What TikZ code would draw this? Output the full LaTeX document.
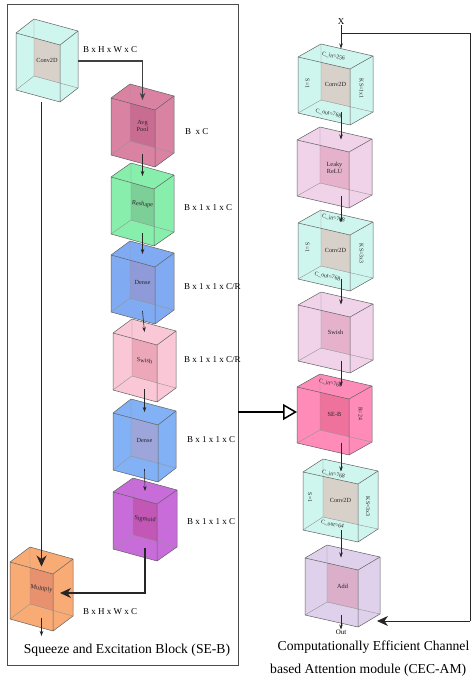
\documentclass[tikz,border=0pt]{standalone}
\usepackage{fontspec}
\setmainfont{Liberation Serif}
\usetikzlibrary{arrows.meta}

% face colours of the see-through blocks (body / overlapping inner panel)
\definecolor{cyanB}{HTML}{CFF6EE}\definecolor{cyanP}{HTML}{D7D1CA}
\definecolor{poolB}{HTML}{DA82A2}\definecolor{poolP}{HTML}{C96C92}
\definecolor{greenB}{HTML}{88EEAC}\definecolor{greenP}{HTML}{7DCF98}
\definecolor{blueB}{HTML}{80ABF2}\definecolor{blueP}{HTML}{8E9BD8}
\definecolor{blue2B}{HTML}{82B1F5}\definecolor{blue2P}{HTML}{9DA6DB}
\definecolor{rosyB}{HTML}{F9C7D5}\definecolor{rosyP}{HTML}{ECA8B8}
\definecolor{violetB}{HTML}{C76CD9}\definecolor{violetP}{HTML}{C257B5}
\definecolor{orangeB}{HTML}{F8AB74}\definecolor{orangeP}{HTML}{E8916E}
\definecolor{mauveB}{HTML}{F0D2E9}\definecolor{mauveP}{HTML}{E6B2CB}
\definecolor{hotB}{HTML}{FF8BB9}\definecolor{hotP}{HTML}{EE729C}
\definecolor{lilacB}{HTML}{DFD1EB}\definecolor{lilacP}{HTML}{DBAEC9}

\tikzset{
  edge/.style={draw=black!62, line width=0.5bp, line join=round},
  hiddenedge/.style={draw=black!42, line width=0.4bp},
  lbl/.style={font=\fontsize{6.3}{7}\selectfont, text=black!85, inner sep=0, align=center},
  tinylbl/.style={font=\fontsize{5.8}{6.5}\selectfont, text=black!85, inner sep=0},
  dimlbl/.style={font=\fontsize{9}{10}\selectfont, inner sep=0, anchor=west},
  caption/.style={font=\fontsize{13.7}{23}\selectfont, align=center, inner sep=0},
  flow/.style={draw=black!85, line width=0.6bp, -{Stealth[length=5bp,width=3.5bp]}},
  mainflow/.style={draw=black!75, line width=1.1bp, -{Stealth[length=7bp,width=5.5bp]}},
  heavyflow/.style={draw=black!85, line width=1.1bp, -{Stealth[length=11bp,width=10bp]}},
  hollowflow/.style={draw=black, line width=1.5bp, -{Triangle[open,length=14bp,width=16bp,line width=1.5bp]}},
  frameline/.style={draw=black!70, line width=0.8bp},
}

% \cuboid{name}{x}{y}{w}{h}{dx}{dy}{body}{panel}
% (x,y): front top-left corner, w,h: front face, (dx,dy): depth offset
\newcommand\cuboid[9]{%
  \pgfmathsetmacro\cbx{#2}\pgfmathsetmacro\cby{#3}%
  \pgfmathsetmacro\cbw{#4}\pgfmathsetmacro\cbh{#5}%
  \pgfmathsetmacro\cbdx{#6}\pgfmathsetmacro\cbdy{#7}%
  \coordinate (#1-A)  at ({\cbx},{\cby});
  \coordinate (#1-B)  at ({\cbx+\cbw},{\cby+12});
  \coordinate (#1-Bb) at ({\cbx+\cbw},{\cby+12+\cbh});
  \coordinate (#1-Ab) at ({\cbx},{\cby+\cbh});
  \coordinate (#1-D)  at ({\cbx+\cbdx},{\cby+\cbdy});
  \coordinate (#1-C)  at ({\cbx+\cbw+\cbdx},{\cby+12+\cbdy});
  \coordinate (#1-Cb) at ({\cbx+\cbw+\cbdx},{\cby+12+\cbdy+\cbh});
  \coordinate (#1-Db) at ({\cbx+\cbdx},{\cby+\cbdy+\cbh});
  \coordinate (#1-P1) at ({\cbx+\cbdx},{\cby+12*\cbdx/\cbw});
  \coordinate (#1-P3) at ({\cbx+\cbw},{\cby+\cbdy+\cbh+12*(\cbw-\cbdx)/\cbw});
  \coordinate (#1-t) at ({\cbx+(\cbw+\cbdx)/2},{\cby+(12+\cbdy)/2});
  \coordinate (#1-b) at ({\cbx+(\cbw+\cbdx)/2},{\cby+\cbh+(12+\cbdy)/2});
  \coordinate (#1-c) at ({\cbx+(\cbw+\cbdx)/2},{\cby+(12*\cbdx/\cbw+12+2*\cbdy+2*\cbh+12*(\cbw-\cbdx)/\cbw)/4});
  \coordinate (#1-lf) at ({\cbx+\cbdx/2},{\cby+(\cbdy+\cbh)/2});
  \coordinate (#1-rf) at ({\cbx+\cbw+\cbdx/2},{\cby+12+(\cbdy+\cbh)/2});
  \fill[#8] (#1-A) -- (#1-D) -- (#1-C) -- (#1-Cb) -- (#1-Bb) -- (#1-Ab) -- cycle;
  \fill[#9] (#1-P1) -- (#1-B) -- (#1-P3) -- (#1-Db) -- cycle;
  \draw[hiddenedge] (#1-D) -- (#1-Db) -- (#1-Cb) (#1-Db) -- (#1-Ab);
  \draw[edge] (#1-A) -- (#1-D) -- (#1-C) -- (#1-Cb) -- (#1-Bb) -- (#1-Ab) -- cycle
              (#1-A) -- (#1-B) -- (#1-C) (#1-B) -- (#1-Bb);
}

\begin{document}
\begin{tikzpicture}[x=1bp,y=-1bp]
\useasboundingbox (0,0) rectangle (471,677);
\fill[white] (0,0) rectangle (471,677);

% ---------------- Squeeze and Excitation Block ----------------
\draw[frameline] (7,4) rectangle (238,665);

\cuboid{cl}{16}{33}{44}{57}{18}{-14}{cyanB}{cyanP}
\cuboid{ap}{111}{98}{44}{57}{19}{-14}{poolB}{poolP}
\cuboid{rs}{111}{177}{43}{57}{20}{-14}{greenB}{greenP}
\cuboid{da}{111}{255}{44}{57}{19}{-14}{blueB}{blueP}
\cuboid{sw}{113}{333}{44}{57}{19}{-14}{rosyB}{rosyP}
\cuboid{db}{113}{413}{45}{57}{18}{-14}{blue2B}{blue2P}
\cuboid{sg}{113}{492}{44}{57}{20}{-14}{violetB}{violetP}
\cuboid{mu}{10}{562}{43}{57}{20}{-15}{orangeB}{orangeP}

\node[lbl] (cl-l) at (cl-c) {Conv2D};
\node[lbl] (ap-l) at (ap-c) {Avg\\Pool};
\node[lbl, rotate=-6] (rs-l) at (rs-c) {Reshape};
\node[lbl] (da-l) at (da-c) {Dense};
\node[lbl, rotate=-6] (sw-l) at (sw-c) {Swish};
\node[lbl] (db-l) at (db-c) {Dense};
\node[lbl, rotate=-6] (sg-l) at (sg-c) {Sigmoid};
\node[lbl, rotate=-8] (mu-l) at (mu-c) {Multiply};

\node[dimlbl] (d0) at (83,50)  {B x H x W x C};
\node[dimlbl] (d1) at (185,132) {B \ x C};
\node[dimlbl] (d2) at (184,208) {B x 1 x 1 x C};
\node[dimlbl] (d3) at (184,287) {B x 1 x 1 x C/R};
\node[dimlbl] (d4) at (184,360) {B x 1 x 1 x C/R};
\node[dimlbl] (d5) at (187,440) {B x 1 x 1 x C};
\node[dimlbl] (d6) at (187,522) {B x 1 x 1 x C};
\node[dimlbl] (d7) at (83,612) {B x H x W x C};

\coordinate (cl-out) at (78,61);
\draw[mainflow] (cl-out) -| ([yshift=-3bp]ap-t);
\draw[heavyflow] (mu-t |- cl-Bb) -- ([yshift=-6bp]mu-t);
\draw[flow] (ap-b) -- (rs-t);
\draw[flow] (rs-b) -- (da-t);
\draw[flow] (da-b) -- (sw-t);
\draw[flow] (sw-b) -- (db-t);
\draw[flow] (db-b) -- (sg-t);
\coordinate (mu-in) at (60,593);
\draw[heavyflow] (sg-b) |- (mu-in);
\coordinate (mu-end) at (41.5,636);
\draw[flow] (mu-b) -- (mu-end);

\node[caption] (seb-cap) at (127,650) {Squeeze and Excitation Block (SE-B)};

% ---------------- CEC-AM column ----------------
\cuboid{ra}{298}{57}{52}{56}{23}{-13}{cyanB}{cyanP}
\cuboid{rb}{297}{140}{52}{56}{23}{-13}{mauveB}{mauveP}
\cuboid{rc}{298}{223}{52}{56}{23}{-13}{cyanB}{cyanP}
\cuboid{rd}{298}{305}{52}{56}{23}{-13}{mauveB}{mauveP}
\cuboid{re}{297}{387}{52}{56}{23}{-13}{hotB}{hotP}
\cuboid{rf}{303}{472}{55}{58}{20}{-13}{cyanB}{cyanP}
\cuboid{rg}{305}{558}{53}{57}{22}{-13}{lilacB}{lilacP}

\node[lbl] (ra-l) at (ra-c) {Conv2D};
\node[tinylbl, rotate=-12] (ra-in) at ([xshift=-2bp]ra-t) {C\_in=256};
\node[tinylbl, rotate=-12] (ra-out) at ([xshift=-7bp,yshift=-1bp]ra-b) {C\_out=768};
\node[tinylbl, rotate=-90] (ra-s) at ([xshift=-2bp,yshift=-5bp]ra-lf) {S=1};
\node[tinylbl, rotate=-90] (ra-k) at ([yshift=2bp]ra-rf) {KS=1x1};

\node[lbl] (rb-l) at (rb-c) {Leaky\\ReLU};

\node[lbl] (rc-l) at (rc-c) {Conv2D};
\node[tinylbl, rotate=-12] (rc-in) at ([xshift=-2bp,yshift=4bp]rc-t) {C\_in=768};
\node[tinylbl, rotate=-12] (rc-out) at ([xshift=-8bp,yshift=2bp]rc-b) {C\_out=768};
\node[tinylbl, rotate=-90] (rc-s) at ([xshift=-2bp,yshift=-3bp]rc-lf) {S=1};
\node[tinylbl, rotate=-90] (rc-k) at ([yshift=3bp]rc-rf) {KS=3x3};

\node[lbl] (rd-l) at (rd-c) {Swish};

\node[lbl] (re-l) at (re-c) {SE-B};
\node[tinylbl, rotate=-12] (re-in) at ([xshift=-4bp,yshift=3bp]re-t) {C\_in=768};
\node[tinylbl, rotate=-90] (re-r) at ([yshift=7bp]re-rf) {R=24};

\node[lbl] (rf-l) at (rf-c) {Conv2D};
\node[tinylbl, rotate=-12] (rf-in) at ([xshift=-7bp,yshift=-3bp]rf-t) {C\_in=768};
\node[tinylbl, rotate=-12] (rf-out) at ([xshift=-8bp,yshift=5bp]rf-b) {C\_out=64};
\node[tinylbl, rotate=-90] (rf-s) at ([xshift=-3bp,yshift=-3bp]rf-lf) {S=1};
\node[tinylbl, rotate=-90] (rf-k) at (rf-rf) {KS=3x3};

\node[lbl] (rg-l) at (rg-c) {Add};

% main path and skip connection
\node[font=\fontsize{9}{10}\selectfont, inner sep=0] (xin) at (341,22) {X};
\coordinate (split) at (341,33);
\coordinate (skipturn) at (470,621);
\coordinate (add-in) at (377,621);
\draw[flow] (xin.south) -- ([yshift=8bp]ra-t -| xin);
\draw[draw=black!85, line width=0.8bp] (split) -| (skipturn);
\draw[heavyflow, line width=0.8bp] (skipturn) -- (add-in);
\draw[flow] (ra-b -| xin) -- (rb-t -| xin);
\draw[flow] (rb-b -| xin) -- (rc-t -| xin);
\draw[flow] (rc-b -| xin) -- (rd-t -| xin);
\draw[flow] (rd-b -| xin) -- (re-t -| xin);
\draw[flow] (re-b -| xin) -- (rf-t -| xin);
\draw[flow] (rf-b -| xin) -- (rg-t -| xin);
\node[font=\fontsize{7}{8}\selectfont, inner sep=0] (outl) at (341,632) {Out};
\draw[flow] (rg-b -| xin) -- (outl.north);

% SE-B block feeds the SE-B stage
\coordinate (frame-e) at (238,412);
\draw[hollowflow] (frame-e) -- (re-A |- frame-e);

\node[caption] (cec-cap1) at (373.5,647) {Computationally Efficient Channel};
\node[caption, anchor=west] (cec-cap2) at (270,670) {based Attention module (CEC-AM)};
\end{tikzpicture}
\end{document}
